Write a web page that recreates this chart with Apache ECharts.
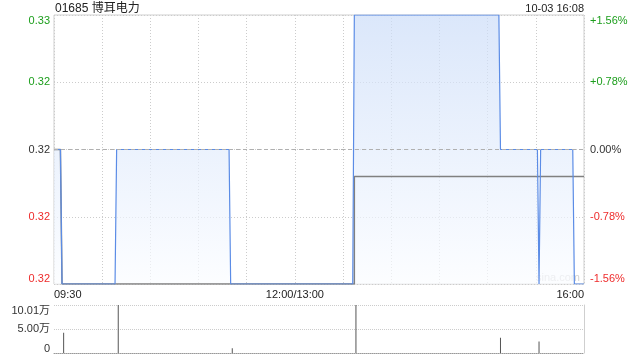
<!DOCTYPE html>
<html><head><meta charset="utf-8">
<script src="https://cdn.jsdelivr.net/npm/echarts@6/dist/echarts.min.js"></script>
<style>html,body{margin:0;padding:0;background:#fff}#c{width:640px;height:360px}</style>
</head><body><div id="c"></div>
<script>
// ---- data ----
var titleText = '01685 博耳电力';
var dateText = '10-03 16:08';
var prevClose = 0.32;
var priceMin = 0.315, priceMax = 0.325;
var priceTimes = ['09:30','09:34','09:35','10:08','10:09','11:19','11:20','13:36','13:37','15:07','15:08','15:31','15:32','15:33','15:53','15:54','16:00'];
var priceValues = [0.320,0.320,0.315,0.315,0.320,0.320,0.315,0.315,0.325,0.325,0.320,0.320,0.315,0.320,0.320,0.315,0.315];
var avgTimes = ['09:30','09:34','09:35','13:37','13:37','16:00'];
var avgValues = [0.320,0.320,0.315,0.315,0.319,0.319];
var volTimes = ['09:36','10:10','11:21','13:38','15:08','15:32'];
var volValues = [42000,100000,10000,100100,32000,24000];
var volMax = 100100;
var xTickLabels = {0:'09:30',150:'12:00/13:00',330:'16:00'};

// trading-minute index (09:30 -> 0, 12:00/13:00 -> 150, 16:00 -> 330)
function idx(t){var p=t.split(':');var m=+p[0]*60+ +p[1];return m<=720?m-570:m-780+150;}
function pairs(ts,vs){return ts.map(function(t,i){return [idx(t),vs[i]];});}

var FONT = '"Liberation Sans", Arial, "Noto Sans CJK SC", sans-serif';
var GREEN = '#1c9e1c', RED = '#ee2c2c', BLACK = '#333';
function eq(a,b){return Math.abs(a-b)<1e-9;}

var chart = echarts.init(document.getElementById('c'));
var rich = {
  gt:{color:GREEN,padding:[11,0,0,0],fontSize:11,fontFamily:FONT},
  g:{color:GREEN,fontSize:11,fontFamily:FONT},
  k:{color:BLACK,fontSize:11,fontFamily:FONT},
  r:{color:RED,fontSize:11,fontFamily:FONT},
  rb:{color:RED,padding:[0,0,11,0],fontSize:11,fontFamily:FONT},
  kt:{color:BLACK,padding:[12,0,0,0],fontSize:11,fontFamily:FONT},
  kb:{color:BLACK,padding:[0,0,8,0],fontSize:11,fontFamily:FONT}
};
function styleFor(v){
  if (eq(v,priceMax)) return 'gt';
  if (eq(v,priceMin)) return 'rb';
  if (eq(v,prevClose)) return 'k';
  return v>prevClose?'g':'r';
}
var priceData = pairs(priceTimes,priceValues);
var option = {
  animation:false,
  textStyle:{fontFamily:FONT},
  title:[
    {text:titleText,left:55,top:3,padding:0,textStyle:{fontSize:12,fontWeight:'normal',color:'#222',fontFamily:FONT}},
    {text:dateText,right:56,top:3,padding:0,textStyle:{fontSize:11,fontWeight:'normal',color:'#222',fontFamily:FONT}}
  ],
  graphic:[{type:'text',right:60,top:272,style:{text:'sina.com',fill:'#d2d2d2',font:'11px '+FONT}}],
  grid:[
    {left:54,width:530,top:15,height:269,show:true,borderColor:'#cfcfcf',borderWidth:1,backgroundColor:'transparent'},
    {left:54,width:530,top:305,height:48}
  ],
  xAxis:[
    {type:'value',gridIndex:0,min:0,max:330,interval:30,
     axisLine:{show:false},axisTick:{show:false},
     splitLine:{show:true,lineStyle:{color:'#cccccc',type:[1,2],width:1}},
     axisLabel:{margin:5,fontSize:11,color:'#222',alignMinLabel:'left',alignMaxLabel:'right',
       formatter:function(v){return xTickLabels[Math.round(v)]||'';}}},
    {type:'value',gridIndex:1,min:0,max:330,interval:30,
     axisLine:{show:true,lineStyle:{color:'#999',type:[1,1]}},axisTick:{show:false},
     splitLine:{show:false},axisLabel:{show:false}}
  ],
  yAxis:[
    {type:'value',gridIndex:0,min:priceMin,max:priceMax,interval:0.0025,
     axisLine:{show:false},axisTick:{show:false},
     splitLine:{show:true,lineStyle:{color:'#cccccc',type:[1,2]}},
     axisLabel:{margin:4,rich:rich,formatter:function(v){return '{'+styleFor(v)+'|'+v.toFixed(2)+'}';}}},
    {type:'value',gridIndex:0,position:'right',min:priceMin,max:priceMax,interval:0.0025,
     axisLine:{show:false},axisTick:{show:false},splitLine:{show:false},
     axisLabel:{margin:6,rich:rich,formatter:function(v){
        var p=(v-prevClose)/prevClose*100; var s=(p>1e-9?'+':'')+(Math.abs(p)<1e-9?0:p).toFixed(2)+'%';
        return '{'+styleFor(v)+'|'+s+'}';}}},
    {type:'value',gridIndex:1,min:0,max:volMax,interval:volMax/2,
     axisLine:{show:false},axisTick:{show:false},
     splitLine:{show:true,lineStyle:{color:'#cccccc',type:[1,1]}},
     axisLabel:{margin:4,rich:rich,formatter:function(v){
        if (v===0) return '{kb|0}';
        var s=(v/10000).toFixed(2)+'万';
        return eq(v,volMax)?'{kt|'+s+'}':'{k|'+s+'}';}}},
    {type:'value',gridIndex:1,position:'right',min:0,max:volMax,
     axisLine:{show:true,lineStyle:{color:'#cfcfcf'}},axisTick:{show:false},splitLine:{show:false},axisLabel:{show:false}}
  ],
  series:[
    {type:'line',xAxisIndex:0,yAxisIndex:0,data:priceData,symbol:'none',
     lineStyle:{width:0,opacity:0},
     areaStyle:{origin:'start',color:new echarts.graphic.LinearGradient(0,0,0,1,[{offset:0,color:'#cbdcf8'},{offset:1,color:'#fafcff'}])},
     markLine:{silent:true,symbol:'none',label:{show:false},
       lineStyle:{color:'#b0b0b0',type:[4,3],width:1},data:[{yAxis:prevClose}]},
     z:1},
    {type:'line',xAxisIndex:0,yAxisIndex:0,data:pairs(avgTimes,avgValues),symbol:'none',
     lineStyle:{color:'#808080',width:1.5},z:2},
    {type:'line',xAxisIndex:0,yAxisIndex:0,data:priceData,symbol:'none',
     lineStyle:{color:'#5b8ce6',width:1.2},z:3},
    {type:'bar',xAxisIndex:1,yAxisIndex:2,data:pairs(volTimes,volValues),barWidth:1,
     itemStyle:{color:'#555'}}
  ]
};
chart.setOption(option);
</script></body></html>
